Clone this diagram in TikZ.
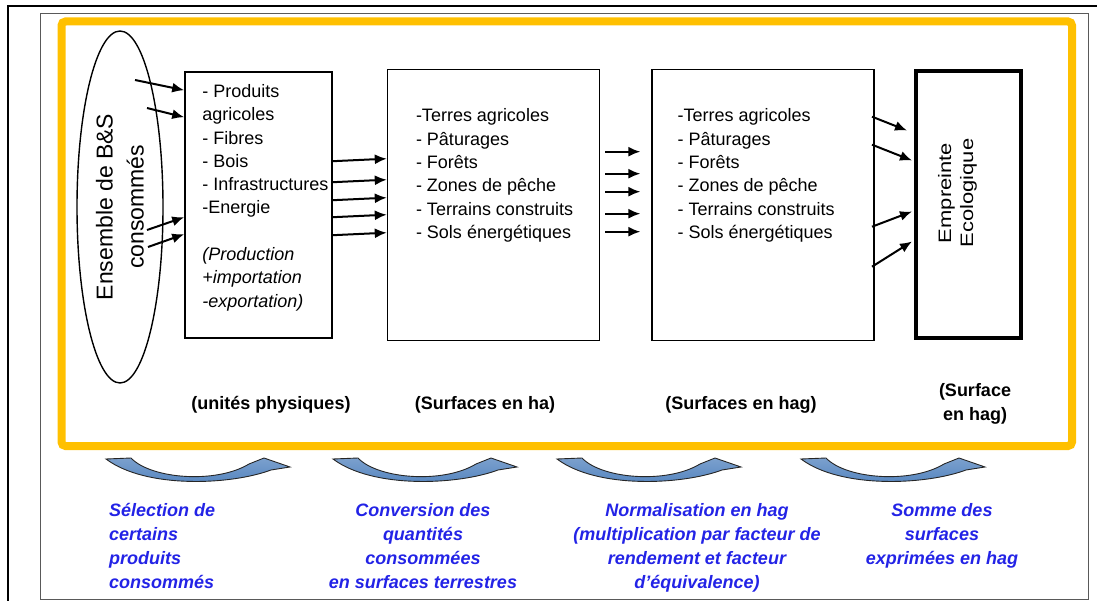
\documentclass[tikz,border=0pt]{standalone}
\usepackage{fontspec}
\setmainfont{Liberation Sans}
\newfontfamily\wideSans[FakeStretch=1.22]{Liberation Sans}
\usetikzlibrary{arrows.meta, positioning, shapes.geometric, calc}
\definecolor{goldframe}{RGB}{255,192,0}
\definecolor{swooshblue}{RGB}{79,129,189}
\definecolor{noteblue}{RGB}{35,35,230}

\begin{document}
\begin{tikzpicture}[
  x=1pt, y=-1pt,
  box/.style={draw, line width=1.6pt, inner sep=0pt},
  txt/.style={anchor=north west, align=left, inner sep=0pt, font=\fontsize{18}{23.3}\selectfont},
  arrow/.style={-{Latex[length=12pt,width=10pt]}, line width=2pt},
  unit/.style={align=center, inner sep=0pt, font=\bfseries\fontsize{18}{24}\selectfont},
  note/.style={anchor=north, align=center, inner sep=0pt, text=noteblue, font=\bfseries\itshape\fontsize{18}{24}\selectfont},
  swoosh/.style={top color=swooshblue!75!white, bottom color=swooshblue, draw=black!85, line width=0.9pt}
]
\useasboundingbox (0,0) rectangle (1097,601);

% FRAMES
\draw[line width=1.5pt] (1097,6) -- (8,6) -- (8,601);
\draw[gray!70!black, line width=1pt] (40,14) rectangle (1088,599);
\draw[goldframe, line width=8pt, rounded corners=4pt] (61.5,21.5) rectangle (1072,446);

% GOODS AND SERVICES
\node[ellipse, draw, line width=1.4pt, rotate=90, minimum width=352pt, minimum height=86pt,
  inner sep=0pt, align=center, font=\fontsize{23}{31}\selectfont] (ens) at (120,207)
  {Ensemble de B\&S\\consommés};

% PRODUCTS
\node[box, minimum width=147pt, minimum height=266pt] (prod) at (258.5,205) {};
\node[txt] (prodtxt) at ($(prod.north west)+(18,13)$) {- Produits\\agricoles\\- Fibres\\- Bois\\- Infrastructures\\-Energie\\[23.3pt]
\textit{(Production}\\\textit{+importation}\\\textit{-exportation)}};

% SURFACES
\node[box, minimum width=212pt, minimum height=271pt, right=54pt of prod] (surf) {};
\node[txt] (surftxt) at ($(surf.north west)+(29,40)$) {-Terres agricoles\\- Pâturages\\- Forêts\\- Zones de pêche\\- Terrains construits\\- Sols énergétiques};

\node[box, minimum width=222pt, minimum height=271pt, right=51pt of surf] (surfhag) {};
\node[txt] (surfhagtxt) at ($(surfhag.north west)+(26,40)$) {-Terres agricoles\\- Pâturages\\- Forêts\\- Zones de pêche\\- Terrains construits\\- Sols énergétiques};

% FOOTPRINT
\node[draw, line width=4pt, inner sep=0pt, minimum width=105pt, minimum height=267pt, right=39pt of surfhag] (emp) {};
\node[rotate=90, align=center, inner sep=0pt, font=\wideSans\fontsize{18}{22}\selectfont] (emptxt)
  at ($(emp.center)+(-11,-12)$) {Empreinte\\Ecologique};

% Connections
\foreach \sx/\sy/\ey in {15/-127/19, 27/-99/46, 27/23/146, 28/40/163}
  \draw[arrow] ($(ens.center)+(\sx,\sy)$) -- ($(prod.north west)+(0,\ey)$);
\foreach \d in {90,111,129,146,164}
  \draw[arrow] ($(prod.north east)+(0,\d)$) -- ($(surf.north west)+(0,\d)$);
\foreach \d in {83,105,123,145,163}
  \draw[arrow] ($(surf.north east)+(5,\d)$) -- ($(surfhag.north west)+(-11,\d)$);
\foreach \sy/\ex/\ey in {48/-7/61, 76/-2/91, 158/-2/142, 198/-2/172}
  \draw[arrow] ($(surfhag.north east)+(-3,\sy)$) -- ($(emp.north west)+(\ex,\ey)$);

% UNITS
\node[unit] (u1) at (271,405) {(unités physiques)};
\node[unit] (u2) at (485,405) {(Surfaces en ha)};
\node[unit] (u3) at (741,405) {(Surfaces en hag)};
\node[unit] (u4) at (975,404) {(Surface\\en hag)};

% STEPS
\foreach \sx in {106,333,557,801}
  \draw[swoosh, shift={(\sx,457)}] (0,2) -- (25,1) .. controls (45,22) and (110,27) .. (143,7)
    -- (158,1) -- (184,10) -- (165,13) .. controls (125,28) and (40,32) .. cycle;

\node[note, anchor=north west, align=left] (s1) at (109,503) {Sélection de\\certains\\produits\\consommés};
\node[note] (s2) at (423,503) {Conversion des\\quantités\\consommées\\en surfaces terrestres};
\node[note] (s3) at (697,503) {Normalisation en hag\\(multiplication par facteur de\\rendement et facteur\\d’équivalence)};
\node[note] (s4) at (942,503) {Somme des\\surfaces\\exprimées en hag};

\end{tikzpicture}
\end{document}
